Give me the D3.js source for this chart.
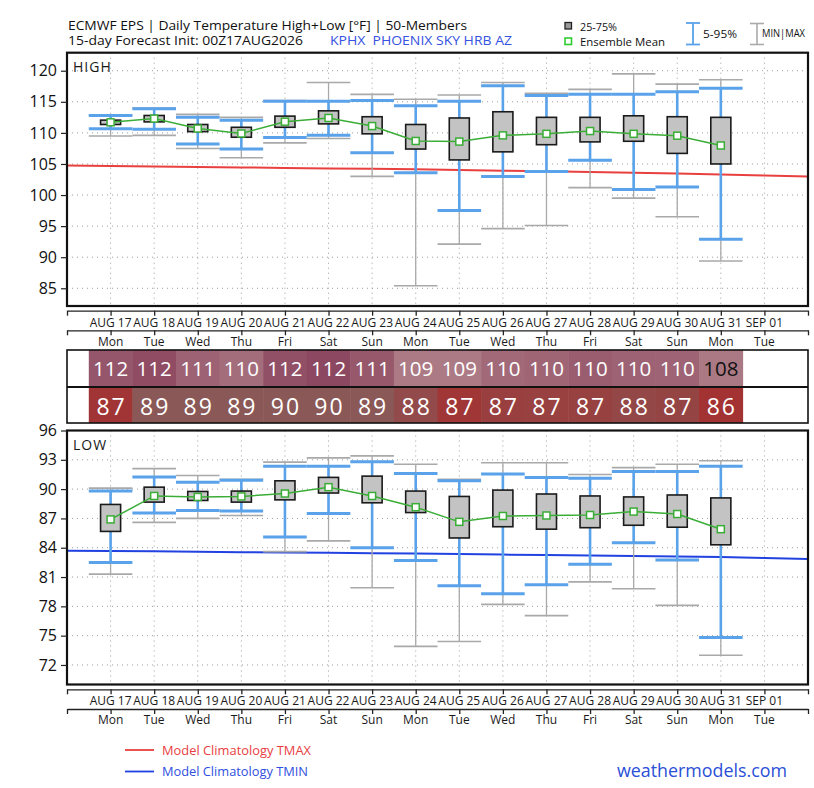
<!DOCTYPE html>
<html><head><meta charset="utf-8">
<script src="https://cdn.jsdelivr.net/npm/d3@7"></script>
<style>body{margin:0;background:#fff}svg{display:block}text{font-family:"Open Sans",sans-serif}</style>
</head><body><svg id="c" width="814" height="788"></svg>
<script>
// ---------------- DATA ----------------
const dates = ["AUG 17","AUG 18","AUG 19","AUG 20","AUG 21","AUG 22","AUG 23","AUG 24","AUG 25","AUG 26","AUG 27","AUG 28","AUG 29","AUG 30","AUG 31","SEP 01"];
const weekdays = ["Mon","Tue","Wed","Thu","Fri","Sat","Sun","Mon","Tue","Wed","Thu","Fri","Sat","Sun","Mon","Tue"];

// HIGH (°F), Aug 17 .. Aug 31
const hiMin  = [109.5,109.6,107.5,106.0,108.4,109.1,103.0,85.4,92.1,94.6,95.1,101.2,99.5,96.5,89.4];
const hiP5   = [110.65,110.6,108.2,107.4,109.25,109.6,106.8,103.6,97.5,103.0,103.8,105.6,100.9,101.3,92.9];
const hiQ1   = [111.35,111.77,110.2,109.3,110.9,111.45,109.85,107.4,105.65,106.95,108.1,108.55,108.65,106.7,105.0];
const hiQ3   = [112.05,112.8,111.35,110.9,112.7,113.55,112.6,111.35,112.4,113.4,112.5,112.5,112.75,112.6,112.5];
const hiP95  = [112.8,113.9,112.5,112.05,115.1,115.1,115.2,114.35,115.1,117.6,116.0,116.2,116.2,116.6,117.2];
const hiMax  = [112.9,114.0,112.97,112.5,115.2,118.1,116.2,115.4,116.1,118.1,116.35,117.0,119.5,117.85,118.55];
const hiMean = [111.7,112.3,110.7,109.9,111.8,112.4,111.1,108.7,108.6,109.6,109.85,110.3,109.85,109.55,107.97];
const hiTable = [112,112,111,110,112,112,111,109,109,110,110,110,110,110,108];

// LOW (°F), Aug 17 .. Aug 31
const loMin  = [81.3,86.6,87.0,87.3,83.6,84.7,79.9,73.9,74.4,78.2,77.05,80.5,79.8,78.1,73.0];
const loP5   = [82.5,87.55,87.8,87.75,85.1,87.5,84.0,82.7,80.1,79.3,80.2,82.3,84.5,82.75,74.8];
const loQ1   = [85.67,88.67,88.84,88.67,88.9,89.6,88.6,87.6,85.0,86.15,85.9,86.05,86.3,86.1,84.3];
const loQ3   = [88.43,90.2,89.76,89.8,90.85,91.2,91.33,89.8,89.25,89.9,89.5,89.3,89.2,89.4,89.1];
const loP95  = [89.8,91.25,90.7,90.9,92.35,92.35,92.8,91.6,90.85,91.55,91.2,91.1,91.8,91.8,92.35];
const loMax  = [90.1,92.1,91.4,91.0,92.76,93.2,93.4,92.55,91.0,92.7,92.7,91.5,92.2,92.55,92.9];
const loMean = [86.9,89.3,89.2,89.25,89.55,90.2,89.3,88.15,86.65,87.25,87.3,87.35,87.7,87.45,85.9];
const loTable = [87,89,89,89,90,90,89,88,87,87,87,87,88,87,86];

// Model climatology, day index -1 .. 16
const climHi = [104.75,104.67,104.60,104.52,104.45,104.37,104.29,104.22,104.14,104.03,103.92,103.82,103.71,103.60,103.45,103.30,103.15,103.00];
const climLo = [83.70,83.66,83.63,83.59,83.55,83.51,83.48,83.44,83.40,83.35,83.30,83.25,83.20,83.15,83.10,83.05,82.95,82.85];

const hiTicks = [85,90,95,100,105,110,115,120];
const loTicks = [72,75,78,81,84,87,90,93,96];

// ---------------- CHART ----------------
const svg = d3.select("#c");
const L = 67, R = 808;
const x = d3.scaleLinear().domain([-1,16]).range([L,R]);
const hiTop = 52.7, hiBot = 306, loTop = 430.5, loBot = 684.5;
const yHi = d3.scaleLinear().domain([82.15,122.9]).range([hiBot,hiTop]);
const yLo = d3.scaleLinear().domain([70,96]).range([loBot,loTop]);
const days = d3.range(15);

const GRAY = "#a9a9a9", BLUE = "#5aa2ea", GREEN = "#3aad36";

function panel(y, top, bot, ticks, label, S, clim, climColor) {
  const g = svg.append("g");
  g.selectAll("line.hg").data(ticks).join("line").attr("class","hg")
    .attr("x1",L).attr("x2",R).attr("y1",d=>y(d)).attr("y2",d=>y(d))
    .attr("stroke","#9c9c9c").attr("stroke-width",1).attr("stroke-dasharray","1,4");
  g.selectAll("line.vg").data(d3.range(0,16)).join("line").attr("class","vg")
    .attr("x1",d=>x(d)).attr("x2",d=>x(d)).attr("y1",top).attr("y2",bot)
    .attr("stroke","#9c9c9c").attr("stroke-width",1).attr("stroke-dasharray","1,4");

  const line = d3.line().x((d,i)=>x(i-1)).y(d=>y(d));
  g.append("path").attr("d",line(clim)).attr("fill","none").attr("stroke",climColor).attr("stroke-width",2);

  // min/max whiskers
  g.selectAll("line.gw").data(days).join("line").attr("class","gw")
    .attr("x1",i=>x(i)).attr("x2",i=>x(i)).attr("y1",i=>y(S.min[i])).attr("y2",i=>y(S.max[i]))
    .attr("stroke",GRAY).attr("stroke-width",1.3);
  ["min","max"].forEach(k=>{
    g.selectAll("line.gc"+k).data(days).join("line").attr("class","gc"+k)
      .attr("x1",i=>x(i-0.5)).attr("x2",i=>x(i+0.5)).attr("y1",i=>y(S[k][i])).attr("y2",i=>y(S[k][i]))
      .attr("stroke",GRAY).attr("stroke-width",1.6);
  });
  // 5-95 whiskers
  g.selectAll("line.bw").data(days).join("line").attr("class","bw")
    .attr("x1",i=>x(i)).attr("x2",i=>x(i)).attr("y1",i=>y(S.p5[i])).attr("y2",i=>y(S.p95[i]))
    .attr("stroke",BLUE).attr("stroke-width",2.6);
  ["p5","p95"].forEach(k=>{
    g.selectAll("line.bc"+k).data(days).join("line").attr("class","bc"+k)
      .attr("x1",i=>x(i-0.5)).attr("x2",i=>x(i+0.5)).attr("y1",i=>y(S[k][i])).attr("y2",i=>y(S[k][i]))
      .attr("stroke",BLUE).attr("stroke-width",3);
  });
  // boxes
  g.selectAll("rect.box").data(days).join("rect").attr("class","box")
    .attr("x",i=>x(i-0.23)).attr("width",x(0.23)-x(-0.23))
    .attr("y",i=>y(S.q3[i])).attr("height",i=>y(S.q1[i])-y(S.q3[i]))
    .attr("fill","#c3c3c3").attr("stroke","#1a1a1a").attr("stroke-width",1.6);
  // mean line + markers
  g.append("path").attr("d",d3.line().x(i=>x(i)).y(i=>y(S.mean[i]))(days))
    .attr("fill","none").attr("stroke",GREEN).attr("stroke-width",1.5);
  g.selectAll("rect.mk").data(days).join("rect").attr("class","mk")
    .attr("x",i=>x(i)-3.5).attr("y",i=>y(S.mean[i])-3.5).attr("width",7).attr("height",7)
    .attr("fill","#fff").attr("stroke",GREEN).attr("stroke-width",1.5);

  // frame
  g.append("rect").attr("x",L).attr("y",top).attr("width",R-L).attr("height",bot-top)
    .attr("fill","none").attr("stroke","#111").attr("stroke-width",2.2);
  // y axis
  const ax = g.append("g").attr("transform",`translate(${L},0)`)
    .call(d3.axisLeft(y).tickValues(ticks).tickSize(6).tickSizeOuter(0).tickPadding(4));
  ax.select(".domain").remove();
  ax.selectAll("line").attr("stroke","#222").attr("stroke-width",1.2);
  ax.selectAll("text").attr("font-size",16).attr("fill","#111").attr("font-family","'Open Sans',sans-serif");

  g.append("text").attr("x",73).attr("y",top+19.5).text(label)
    .attr("font-size",14).attr("letter-spacing",1).attr("fill","#1a1a1a");
}

function xAxis(y1, t1, y2, t2) {
  [y1,y2].forEach(yy=>{
    const a = svg.append("g").attr("transform",`translate(0,${yy})`)
      .call(d3.axisBottom(x).tickValues(d3.range(-1,17)).tickFormat("").tickSize(5).tickSizeOuter(0));
    a.selectAll("path,line").attr("stroke","#222").attr("stroke-width",1.3);
  });
  svg.append("g").selectAll("text").data(dates).join("text")
    .attr("x",(d,i)=>x(i)).attr("y",t1).attr("text-anchor","middle")
    .attr("font-size",12).attr("fill","#1a1a1a").text(d=>d);
  svg.append("g").selectAll("text").data(weekdays).join("text")
    .attr("x",(d,i)=>x(i)).attr("y",t2).attr("text-anchor","middle")
    .attr("font-size",12).attr("fill","#1a1a1a").text(d=>d);
}

panel(yHi, hiTop, hiBot, hiTicks, "HIGH",
  {min:hiMin,p5:hiP5,q1:hiQ1,q3:hiQ3,p95:hiP95,max:hiMax,mean:hiMean}, climHi, "#e8403f");
panel(yLo, loTop, loBot, loTicks, "LOW",
  {min:loMin,p5:loP5,q1:loQ1,q3:loQ3,p95:loP95,max:loMax,mean:loMean}, climLo, "#2142e0");

xAxis(310.7, 326.5, 330.3, 346.3);
xAxis(689.3, 705, 709, 724.3);

// ---------------- TABLE ----------------
const tTop = 350, tMid = 387, tBot = 423;
const hiColor = d3.scaleLinear().domain([4.5,8]).range(["#ad7b86","#8c4860"]).clamp(true);
const loColor = d3.scaleLinear().domain([3,4.5,5.5]).range(["#a33232","#944646","#8a5856"]).clamp(true);
const tg = svg.append("g");
tg.selectAll("rect.hc").data(days).join("rect").attr("class","hc")
  .attr("x",i=>x(i-0.5)).attr("width",x(0.5)-x(-0.5)+0.5).attr("y",tTop).attr("height",tMid-tTop)
  .attr("fill",i=>hiColor(hiMean[i]-climHi[i+1]));
tg.selectAll("rect.lc").data(days).join("rect").attr("class","lc")
  .attr("x",i=>x(i-0.5)).attr("width",x(0.5)-x(-0.5)+0.5).attr("y",tMid).attr("height",tBot-tMid)
  .attr("fill",i=>loColor(loMean[i]-climLo[i+1]));
tg.selectAll("text.ht").data(days).join("text").attr("class","ht")
  .attr("x",i=>x(i)).attr("y",376).attr("text-anchor","middle").attr("font-size",20.5)
  .attr("fill",i=>hiTable[i]<109?"#111":"#fff").text(i=>hiTable[i]);
tg.selectAll("text.lt").data(days).join("text").attr("class","lt")
  .attr("x",i=>x(i)+1).attr("y",414.5).attr("text-anchor","middle").attr("font-size",23)
  .attr("letter-spacing",2).attr("fill","#fff").text(i=>loTable[i]);
tg.append("rect").attr("x",L).attr("y",tTop).attr("width",R-L).attr("height",tBot-tTop)
  .attr("fill","none").attr("stroke","#111").attr("stroke-width",1.6);
tg.append("line").attr("x1",L).attr("x2",R).attr("y1",tMid).attr("y2",tMid)
  .attr("stroke","#111").attr("stroke-width",2);

// ---------------- TITLES / LEGENDS ----------------
svg.append("text").attr("x",68).attr("y",29.5).attr("font-size",12.5).attr("fill","#111")
  .attr("textLength",399).attr("lengthAdjust","spacingAndGlyphs")
  .text("ECMWF EPS | Daily Temperature High+Low [°F] | 50-Members");
svg.append("text").attr("x",68).attr("y",45).attr("font-size",12.5).attr("fill","#111")
  .attr("textLength",235).attr("lengthAdjust","spacingAndGlyphs")
  .text("15-day Forecast Init: 00Z17AUG2026");
svg.append("text").attr("x",330).attr("y",45).attr("font-size",12.5).attr("fill","#3552e0")
  .attr("textLength",182).attr("lengthAdjust","spacingAndGlyphs").style("white-space","pre")
  .text("KPHX  PHOENIX SKY HRB AZ");

const lg = svg.append("g");
lg.append("rect").attr("x",565).attr("y",22.5).attr("width",6.5).attr("height",6.5)
  .attr("fill","#9a9a9a").attr("stroke","#222").attr("stroke-width",1.3);
lg.append("text").attr("x",580).attr("y",30.5).attr("font-size",11).attr("fill","#111")
  .attr("textLength",37).attr("lengthAdjust","spacingAndGlyphs").text("25-75%");
lg.append("rect").attr("x",565).attr("y",38).attr("width",6.5).attr("height",6.5)
  .attr("fill","#fff").attr("stroke","#2ecc2e").attr("stroke-width",1.6);
lg.append("text").attr("x",580).attr("y",45.5).attr("font-size",11.5).attr("fill","#111")
  .attr("textLength",85).attr("lengthAdjust","spacingAndGlyphs").text("Ensemble Mean");
function ibeam(cx, y1, y2, color, w) {
  lg.append("line").attr("x1",cx).attr("x2",cx).attr("y1",y1).attr("y2",y2).attr("stroke",color).attr("stroke-width",w);
  [y1,y2].forEach(yy=>lg.append("line").attr("x1",cx-7).attr("x2",cx+7).attr("y1",yy).attr("y2",yy).attr("stroke",color).attr("stroke-width",w));
}
ibeam(693, 23, 44.5, BLUE, 1.8);
lg.append("text").attr("x",703).attr("y",38).attr("font-size",11).attr("fill","#111")
  .attr("textLength",34).attr("lengthAdjust","spacingAndGlyphs").text("5-95%");
ibeam(757, 23.5, 44.5, "#aaaaaa", 1.6);
lg.append("text").attr("x",762).attr("y",36.5).attr("font-size",11).attr("fill","#111")
  .attr("textLength",43).attr("lengthAdjust","spacingAndGlyphs").text("MIN|MAX");

// bottom legend
svg.append("line").attr("x1",125).attr("x2",154).attr("y1",750).attr("y2",750).attr("stroke","#e8403f").attr("stroke-width",1.8);
svg.append("text").attr("x",162).attr("y",754.5).attr("font-size",12.5).attr("fill","#e8403f")
  .attr("textLength",149).attr("lengthAdjust","spacingAndGlyphs").text("Model Climatology TMAX");
svg.append("line").attr("x1",125).attr("x2",154).attr("y1",771.5).attr("y2",771.5).attr("stroke","#2142e0").attr("stroke-width",1.8);
svg.append("text").attr("x",162).attr("y",776).attr("font-size",12.5).attr("fill","#2f4fe0")
  .attr("textLength",146).attr("lengthAdjust","spacingAndGlyphs").text("Model Climatology TMIN");
svg.append("text").attr("x",617).attr("y",776.5).attr("font-size",18).attr("fill","#2a50d8")
  .attr("textLength",170).attr("lengthAdjust","spacingAndGlyphs").text("weathermodels.com");
</script></body></html>
